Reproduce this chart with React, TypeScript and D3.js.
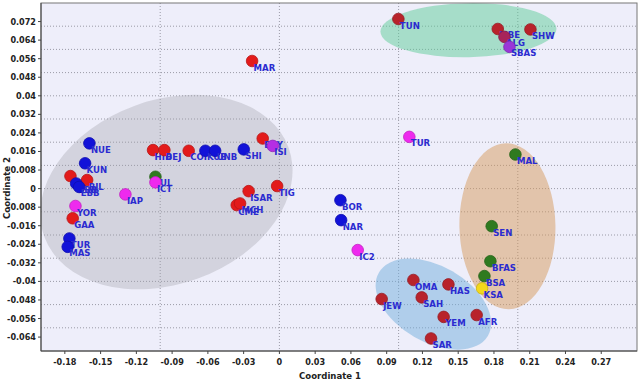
import React from "react";
import * as d3 from "d3";

const popLabels = [
  "LIB", "BIL", "BBB", "EBB", "NUE", "KUN", "YOR", "GAA", "TUR", "MAS",
  "IAP", "JUL", "ICT", "HID", "BEJ", "COI", "KUB", "UNB", "SHI", "EGY",
  "ISI", "MAR", "ISAR", "TIG", "CME", "MCH", "BOR", "NAR", "IC2", "TUR",
  "TUN", "MBE", "SHW", "ALG", "SBAS", "MAL", "SEN", "BFAS", "BSA", "KSA",
  "OMA", "HAS", "JEW", "SAH", "YEM", "AFR", "SAR",
];
const coord1 = [
  -0.1753, -0.1613, -0.1705, -0.168, -0.1594, -0.163, -0.1711, -0.1734, -0.1762, -0.1776,
  -0.1292, -0.104, -0.104, -0.106, -0.0965, -0.0761, -0.0621, -0.0539, -0.0299, -0.014,
  -0.0056, -0.0229, -0.0258, -0.0019, -0.0358, -0.033, 0.0512, 0.0518, 0.0657, 0.109,
  0.0998, 0.1832, 0.2106, 0.1888, 0.193, 0.198, 0.1781, 0.177, 0.172, 0.17,
  0.1124, 0.1418, 0.0858, 0.1194, 0.1378, 0.1655, 0.1272,
];
const coord2 = [
  0.0054, 0.0037, 0.0022, 0.0007, 0.0195, 0.0109, -0.0075, -0.0128, -0.0215, -0.0251,
  -0.0025, 0.0051, 0.0027, 0.0166, 0.0166, 0.0163, 0.0163, 0.0163, 0.0169, 0.0216,
  0.0184, 0.055, -0.0011, 0.0011, -0.0071, -0.0064, -0.005, -0.0136, -0.0265, 0.0223,
  0.0731, 0.0688, 0.0686, 0.0654, 0.0611, 0.0147, -0.0162, -0.0313, -0.0377, -0.043,
  -0.0394, -0.0413, -0.0476, -0.0469, -0.0553, -0.0545, -0.0646,
];
const popGroup = [
  "red", "red", "blue", "blue", "blue", "blue", "magenta", "red", "blue", "blue",
  "magenta", "green", "magenta", "red", "red", "red", "blue", "blue", "blue", "red",
  "violet", "red", "red", "red", "red", "red", "blue", "blue", "magenta", "magenta",
  "darkred", "darkred", "darkred", "plum", "purple", "green", "green", "green", "green", "yellow",
  "darkred", "darkred", "darkred", "darkred", "darkred", "darkred", "darkred",
];

const xTicks = [-0.18, -0.15, -0.12, -0.09, -0.06, -0.03, 0, 0.03, 0.06, 0.09, 0.12, 0.15, 0.18, 0.21, 0.24, 0.27];
const yTicks = [0.072, 0.064, 0.056, 0.048, 0.04, 0.032, 0.024, 0.016, 0.008, 0, -0.008, -0.016, -0.024, -0.032, -0.04, -0.048, -0.056, -0.064];
const xGrid = [-0.1, 0, 0.1, 0.2];
const yGrid = [0.07, 0.06, 0.05, 0.04, 0.03, 0.02, 0.01, 0, -0.01, -0.02, -0.03, -0.04, -0.05, -0.06];

// cluster ellipses: centre in data units, semi-axes in px, rotation in degrees
const ellipseCx = [-0.0948, 0.1586, 0.1913, 0.1292];
const ellipseCy = [-0.0015, 0.0683, -0.0162, -0.0498];
const ellipseRx = [130, 88, 48, 63];
const ellipseRy = [92, 27, 83, 38];
const ellipseRot = [-20, -1, -1, 30];
const ellipseFill = ["#a0a0a8", "#5ecb98", "#d69a5c", "#72aedc"];
const ellipseAlpha = [0.35, 0.5, 0.5, 0.5];

const colors: Record<string, string> = {
  red: "#e31b1b",
  blue: "#1212d8",
  magenta: "#ee2aee",
  violet: "#b52ee4",
  green: "#2f7a1f",
  darkred: "#b8232b",
  plum: "#a8245a",
  purple: "#9a36d8",
  yellow: "#f3d81a",
};

const W = 640;
const H = 381;
const L = 41, R = 637, T = 3, B = 351;
const FONT = "'Liberation Sans Narrow', 'DejaVu Sans Condensed', 'Arial Narrow', sans-serif";

export default function App() {
  const x = d3.scaleLinear().domain([-0.2, 0.3]).range([L, R]);
  const y = d3.scaleLinear().domain([-0.07, 0.08]).range([B, T]);
  const fmt = (v: number) => (Math.abs(v) < 1e-9 ? "0" : String(+v.toFixed(3)));

  return (
    <svg width={W} height={H} style={{ position: "absolute", left: 0, top: 0, background: "#fff" }}>
      <defs>
        <clipPath id="plot">
          <rect x={L} y={T} width={R - L} height={B - T} />
        </clipPath>
      </defs>
      <rect x={L} y={T} width={R - L} height={B - T} fill="#eeeefa" />
      <g clipPath="url(#plot)">
        {yGrid.map((v, i) => (
          <line key={"hg" + i} x1={L} x2={R} y1={y(v)} y2={y(v)} stroke="#9a9aa6" strokeWidth={1} strokeDasharray="1,2" />
        ))}
        {xGrid.map((v, i) => (
          <line key={"vg" + i} x1={x(v)} x2={x(v)} y1={T} y2={B} stroke="#9a9aa6" strokeWidth={1} strokeDasharray="1,2" />
        ))}
        {ellipseCx.map((cx, i) => (
          <ellipse
            key={"el" + i}
            cx={0}
            cy={0}
            rx={ellipseRx[i]}
            ry={ellipseRy[i]}
            transform={`translate(${x(cx)},${y(ellipseCy[i])}) rotate(${ellipseRot[i]})`}
            fill={ellipseFill[i]}
            fillOpacity={ellipseAlpha[i]}
          />
        ))}
        {popLabels.map((lab, i) => {
          const px = x(coord1[i]);
          const py = y(coord2[i]);
          const c = colors[popGroup[i]];
          return (
            <g key={"p" + i}>
              <circle cx={px} cy={py} r={5.8} fill={c} stroke={d3.color(c)!.darker(0.6).toString()} strokeWidth={0.8} />
              <text x={px + 1.5} y={py + 9.5} fontFamily={FONT} fontWeight="bold" fontSize={9.5} fill="#2b2bd0">
                {lab}
              </text>
            </g>
          );
        })}
      </g>
      <rect x={L} y={T} width={R - L} height={B - T} fill="none" stroke="#777" strokeWidth={1} />
      <line x1={L} x2={L} y1={T} y2={B} stroke="#444" strokeWidth={1} />
      <line x1={L} x2={R} y1={B} y2={B} stroke="#444" strokeWidth={1} />
      {xTicks.map((v, i) => (
        <g key={"xt" + i}>
          <line x1={x(v)} x2={x(v)} y1={B} y2={B + 3} stroke="#444" />
          <text x={x(v)} y={B + 14} textAnchor="middle" fontFamily={FONT} fontWeight="bold" fontSize={9} fill="#222">
            {fmt(v)}
          </text>
        </g>
      ))}
      {yTicks.map((v, i) => (
        <g key={"yt" + i}>
          <line x1={L - 3} x2={L} y1={y(v)} y2={y(v)} stroke="#444" />
          <text x={L - 5} y={y(v) + 3} textAnchor="end" fontFamily={FONT} fontWeight="bold" fontSize={9} fill="#222">
            {fmt(v)}
          </text>
        </g>
      ))}
      <text x={330} y={379} textAnchor="middle" fontFamily={FONT} fontWeight="bold" fontSize={9.5} fill="#222">
        Coordinate 1
      </text>
      <text
        transform={`translate(10,188) rotate(-90)`}
        textAnchor="middle"
        fontFamily={FONT}
        fontWeight="bold"
        fontSize={9.5}
        fill="#222"
      >
        Coordinate 2
      </text>
    </svg>
  );
}
